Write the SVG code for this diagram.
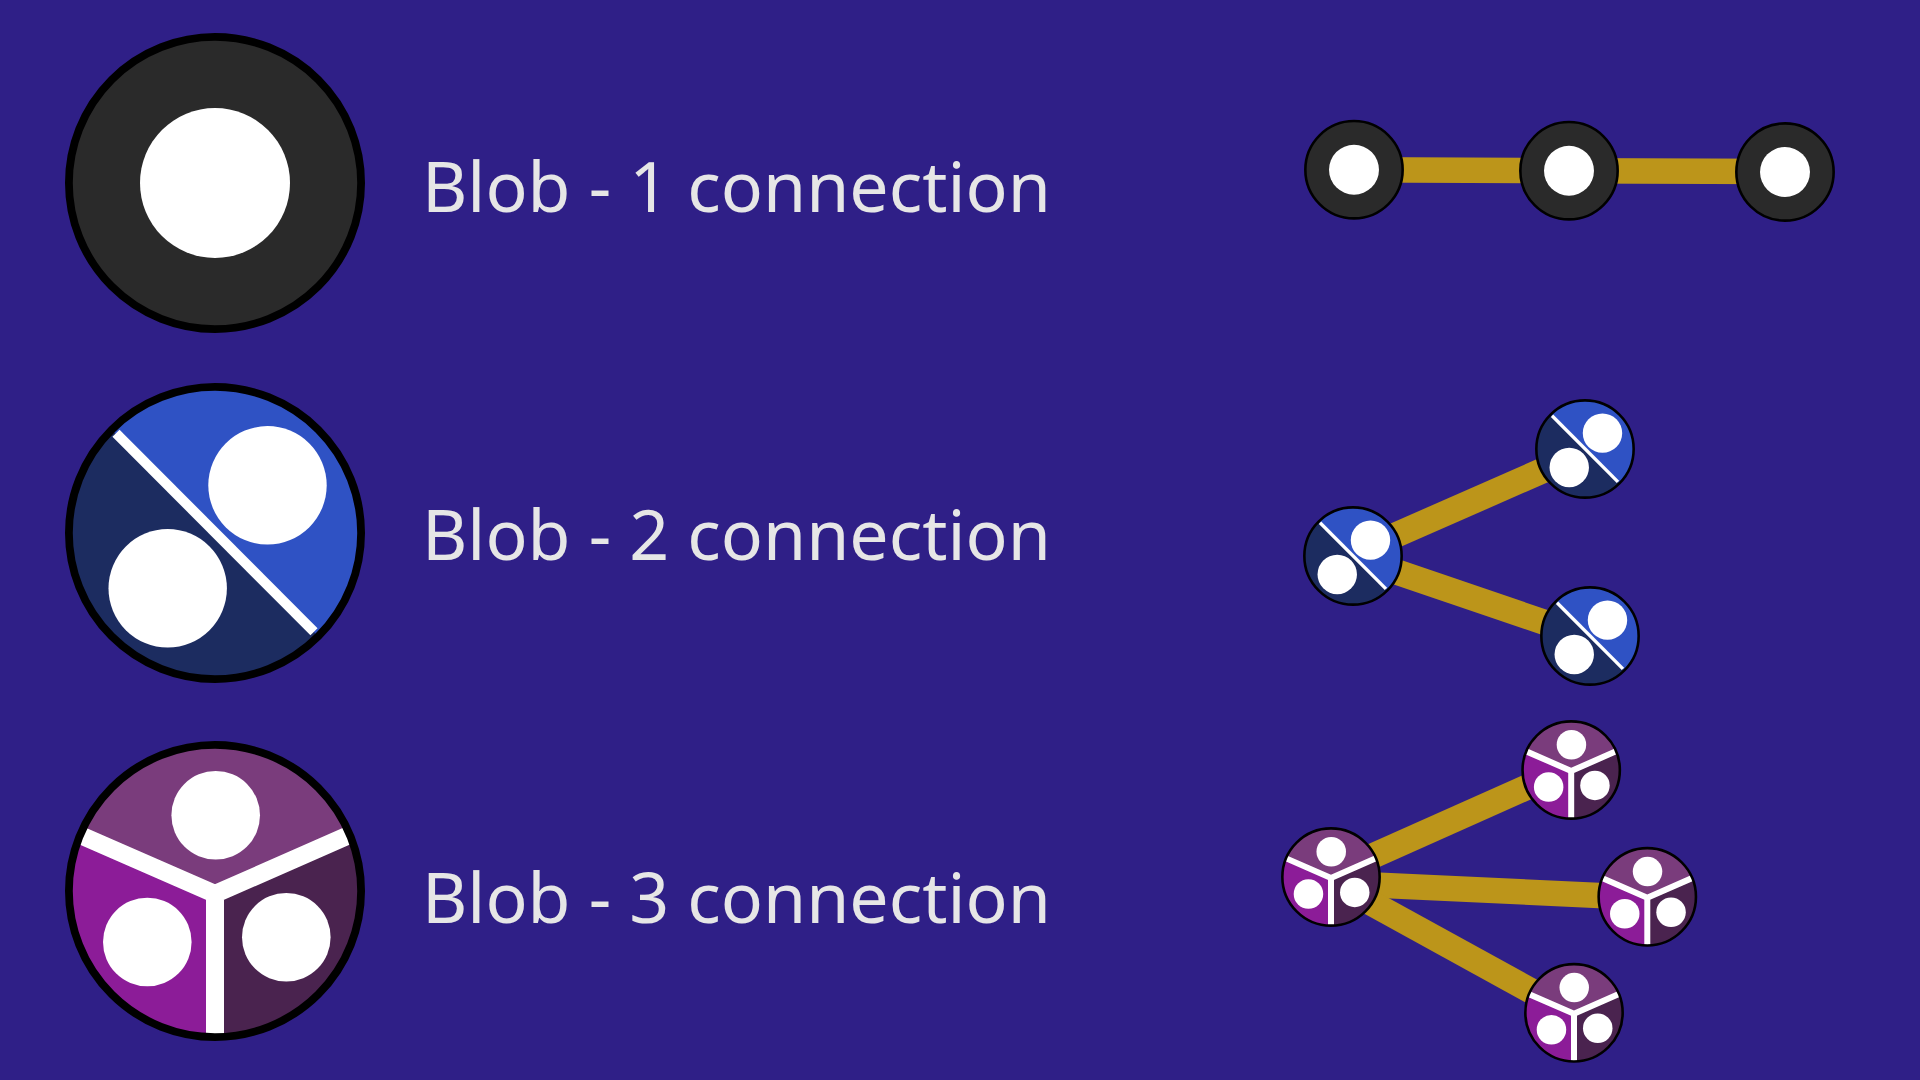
<svg xmlns="http://www.w3.org/2000/svg" xmlns:xlink="http://www.w3.org/1999/xlink" width="1920" height="1080" viewBox="0 0 1920 1080">
<style>
.o{fill:none;stroke:#000;stroke-width:7.8}
.w{fill:#fff}
.b{stroke:#fff;fill:none}
.c{stroke:#bc951a;stroke-width:25.5;fill:none}
.t{font-family:"Noto Sans","Open Sans",sans-serif;font-size:69.8px;fill:#e6e6e6}
</style>
<defs>
<g id="blob1">
<circle r="146.1" fill="#2a2a2a"/>
<circle r="146.1" class="o"/>
<circle r="75" class="w"/>
</g>
<clipPath id="cp"><circle r="146.1"/></clipPath>
<g id="blob2">
<g clip-path="url(#cp)">
<rect x="-150" y="-150" width="300" height="300" fill="#1c2c60"/>
<path d="M-150-150H150V150Z" fill="#2f52c4"/>
</g>
<path d="M-99-99.700L99 98.700" class="b" stroke-width="10"/>
<circle r="146.100" class="o"/>
<circle cx="52.500" cy="-47.700" r="59.200" class="w"/>
<circle cx="-47.300" cy="55.300" r="59.200" class="w"/>
</g>
<g id="blob3">
<g clip-path="url(#cp)">
<rect x="-150" y="-150" width="300" height="300" fill="#7a3c7c"/>
<path d="M0 3L-150-62V150H0Z" fill="#8c1c98"/>
<path d="M0 3L150-62V150H0Z" fill="#4a234f"/>
<path d="M-150-62.600L0 3L150-63M0 3V150" class="b" stroke-width="18"/>
</g>
<circle r="146.100" class="o"/>
<circle cx="0.700" cy="-75.700" r="44.300" class="w"/>
<circle cx="-67.700" cy="51" r="44.300" class="w"/>
<circle cx="71.300" cy="46.300" r="44.300" class="w"/>
</g>
</defs>
<rect width="1920" height="1080" fill="#2f1f87"/>
<g id="connectors">
<path class="c" d="M1354 169.700L1569 170.700"/>
<path class="c" d="M1569 170.700L1785 171.500"/>
<path class="c" d="M1353 553.900L1585 452"/>
<path class="c" d="M1353 557.100L1590 637.900"/>
<path class="c" d="M1331 874.700L1571 767.500"/>
<path class="c" d="M1331 883L1647.300 897.700"/>
<path class="c" d="M1331 880.900L1574 1014.500"/>
</g>
<g id="legend-blob-1"><use href="#blob1" transform="translate(215 183)"/></g>
<g id="legend-blob-2"><use href="#blob2" transform="translate(215 533)"/></g>
<g id="legend-blob-3"><use href="#blob3" transform="translate(215 891)"/></g>
<g id="label-1"><text class="t" x="422" y="212">Blob - 1 connection</text></g>
<g id="label-2"><text class="t" x="422" y="560">Blob - 2 connection</text></g>
<g id="label-3"><text class="t" x="422" y="923">Blob - 3 connection</text></g>
<g id="n1a"><use href="#blob1" transform="translate(1354 169.700) scale(.333)"/></g>
<g id="n1b"><use href="#blob1" transform="translate(1569 170.700) scale(.333)"/></g>
<g id="n1c"><use href="#blob1" transform="translate(1785 172) scale(.333)"/></g>
<g id="n2a"><use href="#blob2" transform="translate(1353 556) scale(.333)"/></g>
<g id="n2b"><use href="#blob2" transform="translate(1585 449) scale(.333)"/></g>
<g id="n2c"><use href="#blob2" transform="translate(1590 636) scale(.333)"/></g>
<g id="n3a"><use href="#blob3" transform="translate(1331 877) scale(.333)"/></g>
<g id="n3b"><use href="#blob3" transform="translate(1571.200 770) scale(.333)"/></g>
<g id="n3c"><use href="#blob3" transform="translate(1647.300 896.800) scale(.333)"/></g>
<g id="n3d"><use href="#blob3" transform="translate(1574 1012.800) scale(.333)"/></g>
</svg>
